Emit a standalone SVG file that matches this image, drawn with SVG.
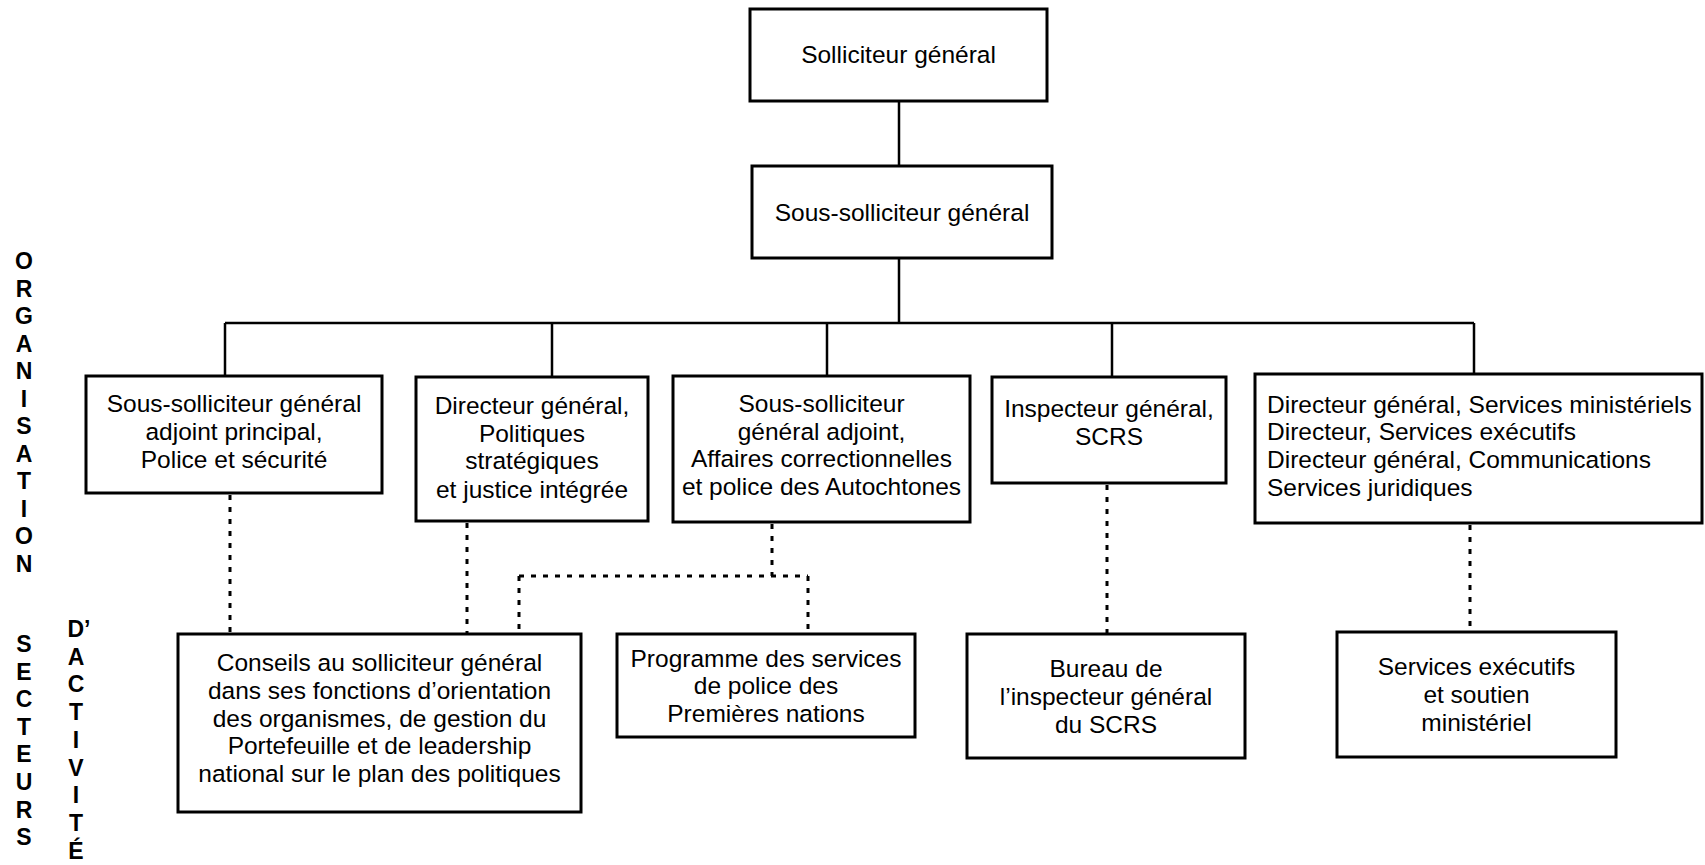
<svg xmlns="http://www.w3.org/2000/svg" width="1705" height="865" viewBox="0 0 1705 865">
<style>
.box{fill:#fff;stroke:#000;stroke-width:3}
.t{font-family:"Liberation Sans",Arial,sans-serif;font-size:24.5px;fill:#000;text-anchor:middle}
.tl{font-family:"Liberation Sans",Arial,sans-serif;font-size:24.5px;fill:#000;text-anchor:start}
.side{font-family:"Liberation Sans",Arial,sans-serif;font-size:23px;font-weight:bold;fill:#000;text-anchor:middle}
.solid{fill:none;stroke:#000;stroke-width:2.5}
.dot{fill:none;stroke:#000;stroke-width:3;stroke-dasharray:5 7}
</style>
<rect width="1705" height="865" fill="#fff"/>
<g id="connectors">
<path class="solid" d="M899 101V166M899 258V323M225 323H1474M225 323V376M552 323V377M827 323V376M1112 323V377M1474 323V374"/>
<path class="dot" d="M230 495V634M467 523V634M772 524V576M519 576H808M519 576V634M808 576V634M1107 485V634M1470 525V632"/>
</g>
<g id="n-solliciteur">
<rect class="box" x="750" y="9" width="297" height="92"/>
<text class="t" x="898.5" y="63">Solliciteur général</text>
</g>
<g id="n-sous-solliciteur">
<rect class="box" x="752" y="166" width="300" height="92"/>
<text class="t" x="902" y="221">Sous-solliciteur général</text>
</g>
<g id="n-police-securite">
<rect class="box" x="86" y="376" width="296" height="117"/>
<text class="t" x="234" y="412">Sous-solliciteur général</text>
<text class="t" x="234" y="440">adjoint principal,</text>
<text class="t" x="234" y="468">Police et sécurité</text>
</g>
<g id="n-politiques">
<rect class="box" x="416" y="377" width="232" height="144"/>
<text class="t" x="532" y="414">Directeur général,</text>
<text class="t" x="532" y="442">Politiques</text>
<text class="t" x="532" y="469">stratégiques</text>
<text class="t" x="532" y="498">et justice intégrée</text>
</g>
<g id="n-affaires-correctionnelles">
<rect class="box" x="673" y="376" width="297" height="146"/>
<text class="t" x="821.5" y="412">Sous-solliciteur</text>
<text class="t" x="821.5" y="440">général adjoint,</text>
<text class="t" x="821.5" y="467">Affaires correctionnelles</text>
<text class="t" x="821.5" y="495">et police des Autochtones</text>
</g>
<g id="n-inspecteur">
<rect class="box" x="992" y="377" width="234" height="106"/>
<text class="t" x="1109" y="417">Inspecteur général,</text>
<text class="t" x="1109" y="445">SCRS</text>
</g>
<g id="n-services-ministeriels">
<rect class="box" x="1255" y="374" width="447" height="149"/>
<text class="tl" x="1267" y="413">Directeur général, Services ministériels</text>
<text class="tl" x="1267" y="440">Directeur, Services exécutifs</text>
<text class="tl" x="1267" y="468">Directeur général, Communications</text>
<text class="tl" x="1267" y="496">Services juridiques</text>
</g>
<g id="n-conseils">
<rect class="box" x="178" y="634" width="403" height="178"/>
<text class="t" x="379.5" y="671">Conseils au solliciteur général</text>
<text class="t" x="379.5" y="699">dans ses fonctions d’orientation</text>
<text class="t" x="379.5" y="727">des organismes, de gestion du</text>
<text class="t" x="379.5" y="754">Portefeuille et de leadership</text>
<text class="t" x="379.5" y="782">national sur le plan des politiques</text>
</g>
<g id="n-programme">
<rect class="box" x="617" y="634" width="298" height="103"/>
<text class="t" x="766" y="667">Programme des services</text>
<text class="t" x="766" y="694">de police des</text>
<text class="t" x="766" y="722">Premières nations</text>
</g>
<g id="n-bureau">
<rect class="box" x="967" y="634" width="278" height="124"/>
<text class="t" x="1106" y="677">Bureau de</text>
<text class="t" x="1106" y="705">l’inspecteur général</text>
<text class="t" x="1106" y="733">du SCRS</text>
</g>
<g id="n-services-executifs">
<rect class="box" x="1337" y="632" width="279" height="125"/>
<text class="t" x="1476.5" y="675">Services exécutifs</text>
<text class="t" x="1476.5" y="703">et soutien</text>
<text class="t" x="1476.5" y="731">ministériel</text>
</g>
<g id="side-labels">
<text class="side" x="24" y="269">O</text>
<text class="side" x="24" y="296.5">R</text>
<text class="side" x="24" y="324">G</text>
<text class="side" x="24" y="351.5">A</text>
<text class="side" x="24" y="379">N</text>
<text class="side" x="24" y="406.5">I</text>
<text class="side" x="24" y="434">S</text>
<text class="side" x="24" y="461.5">A</text>
<text class="side" x="24" y="489">T</text>
<text class="side" x="24" y="516.5">I</text>
<text class="side" x="24" y="544">O</text>
<text class="side" x="24" y="571.5">N</text>
<text class="side" x="24" y="652">S</text>
<text class="side" x="24" y="679.6">E</text>
<text class="side" x="24" y="707.2">C</text>
<text class="side" x="24" y="734.8">T</text>
<text class="side" x="24" y="762.4">E</text>
<text class="side" x="24" y="790">U</text>
<text class="side" x="24" y="817.6">R</text>
<text class="side" x="24" y="845.2">S</text>
<text class="side" x="79" y="637">D’</text>
<text class="side" x="76" y="664.7">A</text>
<text class="side" x="76" y="692.4">C</text>
<text class="side" x="76" y="720.1">T</text>
<text class="side" x="76" y="747.8">I</text>
<text class="side" x="76" y="775.5">V</text>
<text class="side" x="76" y="803.2">I</text>
<text class="side" x="76" y="830.9">T</text>
<text class="side" x="76" y="858.6">É</text>
</g>
</svg>
